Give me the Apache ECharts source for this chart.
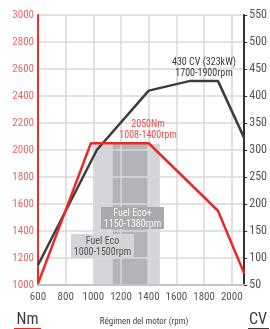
<!DOCTYPE html>
<html>
<head>
<meta charset="utf-8">
<script src="https://cdn.jsdelivr.net/npm/echarts@6/dist/echarts.min.js"></script>
<style>
html, body { margin: 0; padding: 0; background: #fff; }
#chart { width: 270px; height: 329px; }
</style>
</head>
<body>
<div id="chart"></div>
<script>
// par motor (Nm) segun regimen (rpm)
var torqueRpm = [600, 982, 1400, 1900, 2090];
var torqueNm = [1010, 2050, 2050, 1550, 1085];
// potencia (CV) segun regimen (rpm)
var powerRpm = [600, 1025, 1400, 1700, 1900, 2090];
var powerCv = [87, 300, 410, 428, 428, 322];
// zonas Fuel Eco: [rpm desde, rpm hasta, Nm abajo, Nm arriba]
var ecoBand = [1000, 1480, 1000, 2045];
var ecoPlusBand = [1140, 1390, 1000, 2045];
// ejes: [min, max, intervalo]
var rpmAxis = [600, 2090, 200];
var nmAxis = [1000, 3000, 200];
var cvAxis = [50, 550, 50];

var FONT = '"Liberation Sans Narrow", "Roboto Condensed", Roboto, sans-serif';

function pairs(xs, ys) {
    var out = [];
    for (var i = 0; i < xs.length; i++) out.push([xs[i], ys[i]]);
    return out;
}
// sin separador de miles
function plain(v) { return String(v); }

function label(x, y, text, color, size) {
    return {
        type: 'text', x: x, y: y, z: 100,
        style: { text: text, fill: color, font: size + 'px ' + FONT, textAlign: 'center', textVerticalAlign: 'middle' }
    };
}

var myChart = echarts.init(document.getElementById('chart'), null, { renderer: 'canvas' });

var option = {
    animation: false,
    grid: { left: 38, right: 21, top: 15, bottom: 44 },
    xAxis: {
        type: 'value',
        min: rpmAxis[0], max: rpmAxis[1], interval: rpmAxis[2],
        axisLine: { show: true, lineStyle: { color: '#c4c5c9', width: 2 } },
        axisTick: { show: false },
        axisLabel: { color: '#555', fontSize: 11, fontFamily: FONT, margin: 7, showMaxLabel: false, formatter: plain },
        splitLine: { show: true, lineStyle: { color: '#d8d9dd', width: 1.5 } }
    },
    yAxis: [
        {
            type: 'value',
            min: nmAxis[0], max: nmAxis[1], interval: nmAxis[2],
            axisLine: { show: true, lineStyle: { color: '#e8302c', width: 2 } },
            axisTick: { show: false },
            axisLabel: { color: '#f06464', fontSize: 11, fontFamily: FONT, margin: 4, formatter: plain },
            splitLine: { show: true, lineStyle: { color: '#d8d9dd', width: 1.5 } }
        },
        {
            type: 'value',
            position: 'right',
            min: cvAxis[0], max: cvAxis[1], interval: cvAxis[2],
            axisLine: { show: true, lineStyle: { color: '#333', width: 2 } },
            axisTick: { show: true, inside: false, length: 3, lineStyle: { color: '#333', width: 1 } },
            axisLabel: { color: '#555', fontSize: 12, fontFamily: FONT, margin: 5, formatter: plain },
            splitLine: { show: false }
        }
    ],
    series: [
        {
            // zonas grises Fuel Eco / Fuel Eco+
            type: 'custom',
            z: -1,
            silent: true,
            yAxisIndex: 0,
            renderItem: function (params, api) {
                var p1 = api.coord([api.value(0), api.value(3)]);
                var p2 = api.coord([api.value(1), api.value(2)]);
                return {
                    type: 'rect',
                    shape: { x: p1[0], y: p1[1], width: p2[0] - p1[0], height: p2[1] - p1[1] },
                    style: { fill: api.visual('color') }
                };
            },
            data: [
                { value: ecoBand, itemStyle: { color: '#d3d5d8' } },
                { value: ecoPlusBand, itemStyle: { color: '#b3b4b7' } }
            ]
        },
        {
            name: 'CV',
            type: 'line',
            yAxisIndex: 1,
            data: pairs(powerRpm, powerCv),
            symbol: 'none',
            lineStyle: { color: '#3d3d3f', width: 2.5 },
            z: 3
        },
        {
            name: 'Nm',
            type: 'line',
            yAxisIndex: 0,
            data: pairs(torqueRpm, torqueNm),
            symbol: 'none',
            lineStyle: { color: '#ea2a28', width: 2.5 },
            z: 4
        }
    ],
    graphic: [
        // etiqueta potencia max
        label(204, 62, '430 CV (323kW)', '#3a3a3a', 10),
        label(204, 73.5, '1700-1900rpm', '#3a3a3a', 10),
        // etiqueta par max
        label(148, 124, '2050Nm', '#f04848', 10),
        label(148, 135, '1008-1400rpm', '#f04848', 10),
        // cajas Fuel Eco
        { type: 'rect', shape: { x: 101, y: 207, width: 63, height: 22 }, style: { fill: '#a9aaad' }, z: 90 },
        label(132.5, 213, 'Fuel Eco+', '#f7f7f7', 10),
        label(132.5, 224, '1150-1380rpm', '#f7f7f7', 10),
        { type: 'rect', shape: { x: 71, y: 234, width: 63, height: 24 }, style: { fill: '#d2d4d7' }, z: 90 },
        label(102.5, 241, 'Fuel Eco', '#555', 10),
        label(102.5, 252, '1000-1500rpm', '#555', 10),
        // pie del grafico
        label(27.5, 320, 'Nm', '#3a3a3a', 16),
        { type: 'line', shape: { x1: 14, y1: 328.5, x2: 41, y2: 328.5 }, style: { stroke: '#ea2a28', lineWidth: 1 } },
        label(144, 322, 'Régimen del motor (rpm)', '#444', 9),
        label(258, 320, 'CV', '#3a3a3a', 16),
        { type: 'line', shape: { x1: 248, y1: 328.5, x2: 269, y2: 328.5 }, style: { stroke: '#3a3a3a', lineWidth: 1 } }
    ]
};

myChart.setOption(option);
</script>
</body>
</html>
